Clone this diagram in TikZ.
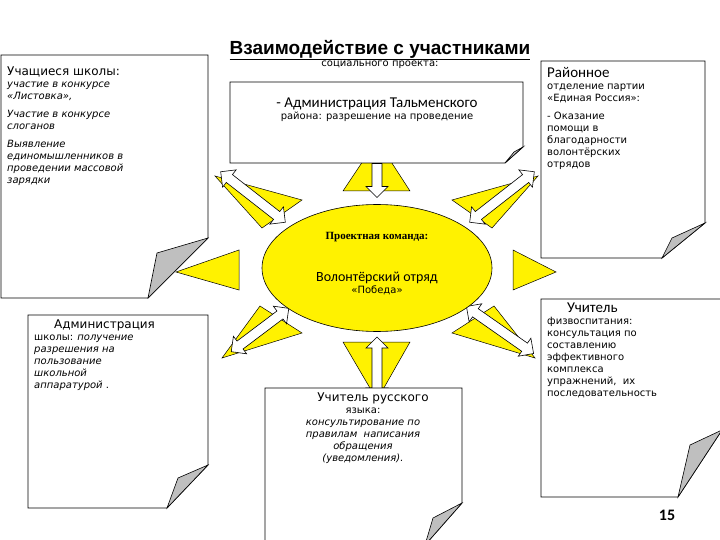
\documentclass[tikz,border=0pt]{standalone}
\usepackage{fontspec}
\setmainfont{DejaVu Sans}
\newfontfamily\calfont{Carlito}
\newfontfamily\arl{Liberation Sans}
\newfontfamily\tms{Liberation Serif}
\usetikzlibrary{shapes.geometric,shapes.arrows}
\tikzset{
 ray/.style={fill=yellow,draw=black,line width=0.5pt},
 paper/.style={fill=white,draw=black,line width=0.8pt},
 flap/.style={fill=black!25,draw=black,line width=0.6pt},
 darr/.style={double arrow,draw=black,fill=white,line width=0.6pt,minimum width=22pt,double arrow head extend=4pt,inner sep=3pt},
 sarr/.style={single arrow,draw=black,fill=white,line width=0.6pt,minimum width=22pt,single arrow head extend=4pt,inner sep=3pt},
 txt/.style={anchor=north west,align=left,inner sep=0pt},
}
\begin{document}
\begin{tikzpicture}[x=1pt,y=-1pt]
\useasboundingbox[fill=white] (0,0) rectangle (720,540);
\path[ray] (343,191)--(410,191)--(377,140)--cycle;
\path[ray] (343,342)--(410,342)--(377,400)--cycle;
\path[ray] (239,250)--(239,290)--(176,272)--cycle;
\path[ray] (513,250)--(513,290)--(556,272)--cycle;
\path[ray] (302,200)--(262,228)--(215,176)--cycle;
\path[ray] (452,200)--(492,228)--(538,176)--cycle;
\path[ray] (302,333)--(260,306)--(222,358)--cycle;
\path[ray] (452,333)--(494,306)--(535,358)--cycle;
\node[sarr,minimum height=34pt,rotate=-90] (aT) at (377,178) {};
\node[darr,minimum height=62pt,rotate=90] (aB) at (377,368) {};
\node[darr,minimum height=82pt,rotate=-38] (aUL) at (253,197) {};
\node[darr,minimum height=82pt,rotate=38] (aUR) at (502,197) {};
\node[darr,minimum height=72pt,rotate=37] (aLL) at (260,330) {};
\node[darr,minimum height=82pt,rotate=-35] (aLR) at (500,330) {};
\node[ellipse,draw=black,fill=yellow,minimum width=230pt,minimum height=127pt,line width=0.6pt] (ell) at (377,268) {};
\node[inner sep=0pt] (pk) at (377,237) {\tms\bfseries\fontsize{11}{13}\selectfont Проектная команда:};
\node[inner sep=0pt,align=center] (vo) at (377,283) {\calfont\fontsize{14}{21}\selectfont Волонтёрский отряд\\«Победа»};
\path[paper] (1,55)--(208,55)--(208,238)--(148,298)--(1,298)--cycle;
\path[flap] (208,238)--(157,253)--(148,298)--cycle;
\path[paper] (230,82)--(523,82)--(523,147)--(505,163)--(230,163)--cycle;
\path[flap] (523,147)--(514,152)--(505,163)--cycle;
\path[paper] (541,61)--(705,61)--(705,223)--(662,258)--(541,258)--cycle;
\path[flap] (705,223)--(672,238)--(662,258)--cycle;
\path[paper] (28,315)--(208,315)--(208,465)--(167,508)--(28,508)--cycle;
\path[flap] (208,465)--(178,478)--(167,508)--cycle;
\path[paper] (265,388)--(462,388)--(462,503)--(425,545)--(265,545)--cycle;
\path[flap] (462,503)--(433,518)--(425,545)--cycle;
\path[paper] (541,299)--(722,299)--(722,430)--(678,497)--(541,497)--cycle;
\path[flap] (722,430)--(690,445)--(678,497)--cycle;
\node[inner sep=0pt,align=center] (title) at (380,54) {\arl\bfseries\fontsize{19}{28}\selectfont \underline{Взаимодействие с участниками}\\социального проекта:};
\node[txt] (t1) at (7,67) {\fontsize{12}{21.5}\selectfont Учащиеся школы:\\\itshape участие в конкурсе\\\itshape«Листовка»,\\[6pt]\itshape Участие в конкурсе\\\itshape слоганов\\[6pt]\itshape Выявление\\\itshape единомышленников в\\\itshape проведении массовой\\\itshape зарядки};
\node[inner sep=0pt,align=center] (t2) at (377,110) {\calfont\fontsize{15}{21}\selectfont - Администрация Тальменского\\района: разрешение на проведение};
\node[txt] (t3) at (547,67) {\calfont\fontsize{15}{21.5}\selectfont Районное\\отделение партии\\«Единая Россия»:\\[6pt]- Оказание\\помощи в\\благодарности\\волонтёрских\\отрядов};
\node[txt] (t4) at (34,320) {\fontsize{12}{21}\selectfont \hspace*{20pt}Администрация\\школы: \itshape получение\\\itshape разрешения на\\\itshape пользование\\\itshape школьной\\\itshape аппаратурой\upshape\ .};
\node[inner sep=0pt,align=center,anchor=north] (t5) at (363,393) {\fontsize{12}{22}\selectfont \hspace*{20pt}Учитель русского\\языка:\\\itshape консультирование по\\\itshape правилам\ \ написания\\\itshape обращения\\\itshape (уведомления).};
\node[txt] (t6) at (547,303) {\calfont\fontsize{15}{21}\selectfont \hspace*{20pt}Учитель\\физвоспитания:\\консультация по\\составлению\\эффективного\\комплекса\\упражнений,\ \ их\\последовательность};
\node[inner sep=0pt] (pg) at (667,515) {\calfont\bfseries\fontsize{16}{18}\selectfont 15};
\end{tikzpicture}
\end{document}
